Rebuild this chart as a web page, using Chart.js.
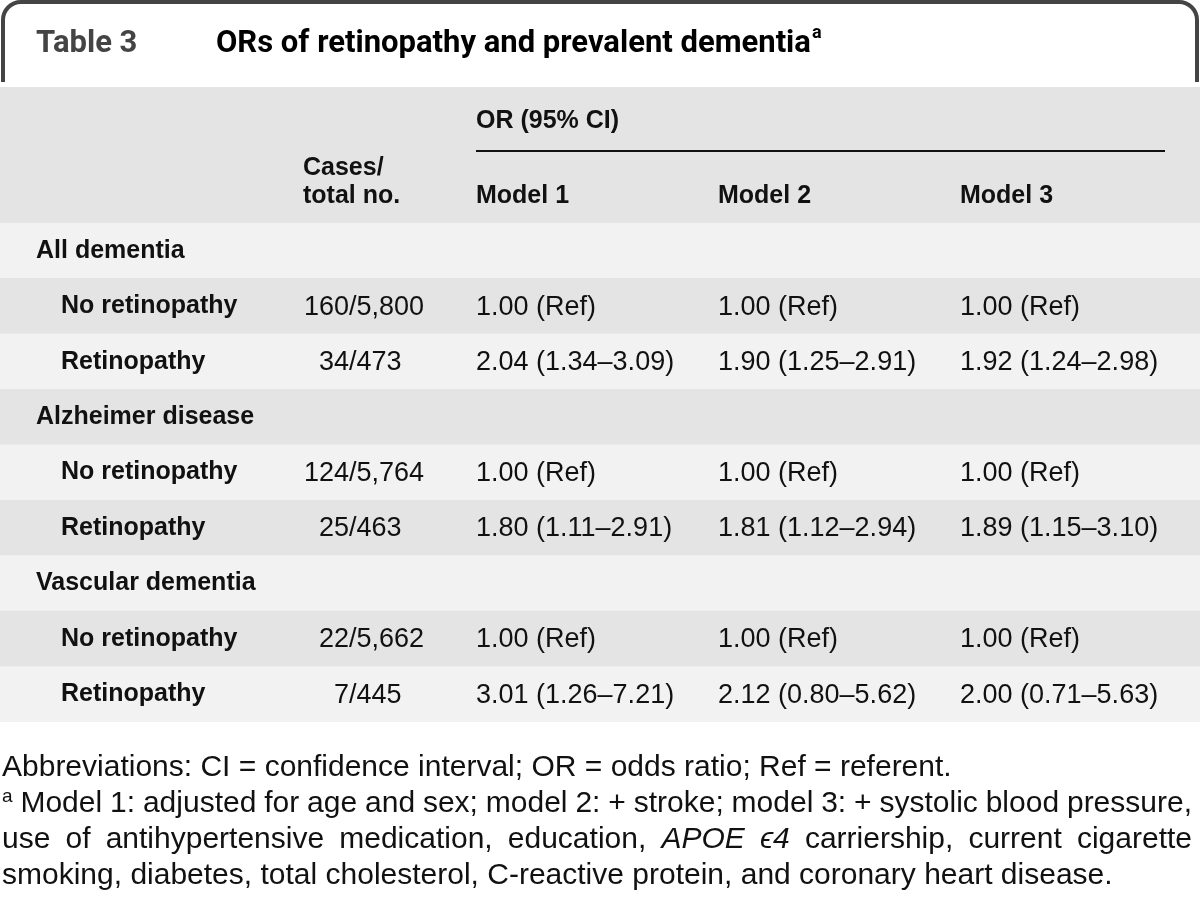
<!DOCTYPE html>
<html>
<head>
<meta charset="utf-8">
<script src="https://cdn.jsdelivr.net/npm/chart.js@4.4.1/dist/chart.umd.min.js"></script>
<style>
  html, body { margin: 0; padding: 0; background: #fff; }
  #wrap { width: 1200px; height: 898px; }
</style>
</head>
<body>
<div id="wrap"><canvas id="c"></canvas></div>
<script>
// table content
const tableNo = 'Table 3';
const tableTitle = 'ORs of retinopathy and prevalent dementia';
const rowLabels = ['All dementia', 'No retinopathy', 'Retinopathy',
                   'Alzheimer disease', 'No retinopathy', 'Retinopathy',
                   'Vascular dementia', 'No retinopathy', 'Retinopathy'];
const groupRow = [true, false, false, true, false, false, true, false, false];
const cases  = [null, 160, 34, null, 124, 25, null, 22, 7];
const totals = [null, 5800, 473, null, 5764, 463, null, 5662, 445];
const model1OR = [null, 1.00, 2.04, null, 1.00, 1.80, null, 1.00, 3.01];
const model1Lo = [null, null, 1.34, null, null, 1.11, null, null, 1.26];
const model1Hi = [null, null, 3.09, null, null, 2.91, null, null, 7.21];
const model2OR = [null, 1.00, 1.90, null, 1.00, 1.81, null, 1.00, 2.12];
const model2Lo = [null, null, 1.25, null, null, 1.12, null, null, 0.80];
const model2Hi = [null, null, 2.91, null, null, 2.94, null, null, 5.62];
const model3OR = [null, 1.00, 1.92, null, 1.00, 1.89, null, 1.00, 2.00];
const model3Lo = [null, null, 1.24, null, null, 1.15, null, null, 0.71];
const model3Hi = [null, null, 2.98, null, null, 3.10, null, null, 5.63];
const modelLabels = ['Model 1', 'Model 2', 'Model 3'];
const footLines = [
  { text: 'Abbreviations: CI = confidence interval; OR = odds ratio; Ref = referent.', justify: false },
  { text: '^a Model 1: adjusted for age and sex; model 2: + stroke; model 3: + systolic blood pressure,', justify: true },
  { text: 'use of antihypertensive medication, education, *APOE* *ϵ4* carriership, current cigarette', justify: true },
  { text: 'smoking, diabetes, total cholesterol, C-reactive protein, and coronary heart disease.', justify: false }
];

const TITLE_FONT = 'Roboto, "Liberation Sans", sans-serif';
const FONT = '"Liberation Sans", Arial, sans-serif';
const models = [
  [model1OR, model1Lo, model1Hi],
  [model2OR, model2Lo, model2Hi],
  [model3OR, model3Lo, model3Hi]
];
const modelX = [476, 718, 960];

function orText(or, lo, hi) {
  if (or === null) return '';
  if (lo === null) return or.toFixed(2) + ' (Ref)';
  return or.toFixed(2) + ' (' + lo.toFixed(2) + '–' + hi.toFixed(2) + ')';
}

function txt(ctx, s, x, y, font, color, align) {
  ctx.font = font;
  ctx.fillStyle = color || '#111';
  ctx.textAlign = align || 'left';
  ctx.fillText(s, x, y);
}

function pieceFont(p) {
  return (p.it ? 'italic ' : '') + (p.sup ? '19px ' : '30px ') + FONT;
}

function parseWord(w) {
  if (w.startsWith('^')) return [{ t: w.slice(1), sup: true }];
  if (w.startsWith('*') && w.endsWith('*')) return [{ t: w.slice(1, -1), it: true }];
  return [{ t: w }];
}

function drawFootLine(ctx, line, x0, x1, y) {
  const words = line.text.split(' ').map(parseWord);
  const widths = words.map(w => w.reduce((s, p) => { ctx.font = pieceFont(p); return s + ctx.measureText(p.t).width; }, 0));
  const total = widths.reduce((a, b) => a + b, 0);
  ctx.font = pieceFont({});
  const space = ctx.measureText(' ').width;
  const gap = line.justify ? (x1 - x0 - total) / (words.length - 1) : space;
  let x = x0;
  ctx.textAlign = 'left';
  ctx.fillStyle = '#111';
  words.forEach(w => {
    w.forEach(p => {
      ctx.font = pieceFont(p);
      ctx.fillText(p.t, x, p.sup ? y - 10 : y);
      x += ctx.measureText(p.t).width;
    });
    x += gap;
  });
}

const tablePlugin = {
  id: 'tableDraw',
  beforeDatasetsDraw(chart) {
    const ctx = chart.ctx;
    const top = chart.chartArea.top;
    ctx.save();
    // header band
    ctx.fillStyle = '#e4e4e4';
    ctx.fillRect(0, 87, chart.width, top - 87);
    // tab outline
    ctx.strokeStyle = '#444';
    ctx.lineWidth = 4;
    ctx.beginPath();
    ctx.moveTo(3, 82);
    ctx.arcTo(3, 2, 30, 2, 18);
    ctx.arcTo(1197, 2, 1197, 40, 18);
    ctx.lineTo(1197, 82);
    ctx.stroke();
    ctx.restore();
  },
  afterDatasetsDraw(chart) {
    const ctx = chart.ctx;
    const ys = chart.scales.y;
    const bold = 'bold 25px ' + FONT;
    const reg = '27px ' + FONT;
    ctx.save();
    ctx.textBaseline = 'alphabetic';
    // title
    txt(ctx, tableNo, 36, 52, 'bold 31px ' + TITLE_FONT, '#444');
    txt(ctx, tableTitle, 216, 52, 'bold 31px ' + TITLE_FONT, '#000');
    const tw = ctx.measureText(tableTitle).width;
    txt(ctx, 'a', 216 + tw + 1, 38, 'bold 18px ' + TITLE_FONT, '#000');
    // column heads
    txt(ctx, 'OR (95% CI)', 476, 128, bold);
    ctx.strokeStyle = '#111';
    ctx.lineWidth = 2;
    ctx.beginPath();
    ctx.moveTo(476, 151);
    ctx.lineTo(1165, 151);
    ctx.stroke();
    txt(ctx, 'Cases/', 303, 175, bold);
    txt(ctx, 'total no.', 303, 203, bold);
    modelLabels.forEach((m, i) => txt(ctx, m, modelX[i], 203, bold));
    // body rows
    ctx.textBaseline = 'middle';
    rowLabels.forEach((lab, i) => {
      const y = ys.getPixelForValue(i);
      txt(ctx, lab, groupRow[i] ? 36 : 61, y, bold);
      if (cases[i] !== null) {
        txt(ctx, String(cases[i]), 349, y + 1, reg, '#111', 'right');
        txt(ctx, '/' + totals[i].toLocaleString('en-US'), 349, y + 1, reg, '#111', 'left');
      }
      models.forEach((m, k) => {
        txt(ctx, orText(m[0][i], m[1][i], m[2][i]), modelX[k], y + 1, reg);
      });
    });
    // footnotes
    ctx.textBaseline = 'alphabetic';
    footLines.forEach((line, i) => drawFootLine(ctx, line, 2, 1192, 776 + i * 36));
    ctx.restore();
  }
};

new Chart(document.getElementById('c'), {
  type: 'bar',
  data: {
    labels: rowLabels,
    datasets: [{
      data: rowLabels.map(() => 1),
      backgroundColor: rowLabels.map((_, i) => i % 2 === 0 ? '#f2f2f2' : '#e4e4e4'),
      borderWidth: 0,
      barPercentage: 1,
      categoryPercentage: 1
    }]
  },
  options: {
    indexAxis: 'y',
    responsive: true,
    maintainAspectRatio: false,
    animation: false,
    layout: { padding: { top: 223, bottom: 176, left: 0, right: 0 } },
    scales: {
      x: { type: 'linear', min: 0, max: 1, display: false },
      y: { type: 'category', display: false }
    },
    plugins: {
      legend: { display: false },
      tooltip: { enabled: false }
    }
  },
  plugins: [tablePlugin]
});
</script>
</body>
</html>
